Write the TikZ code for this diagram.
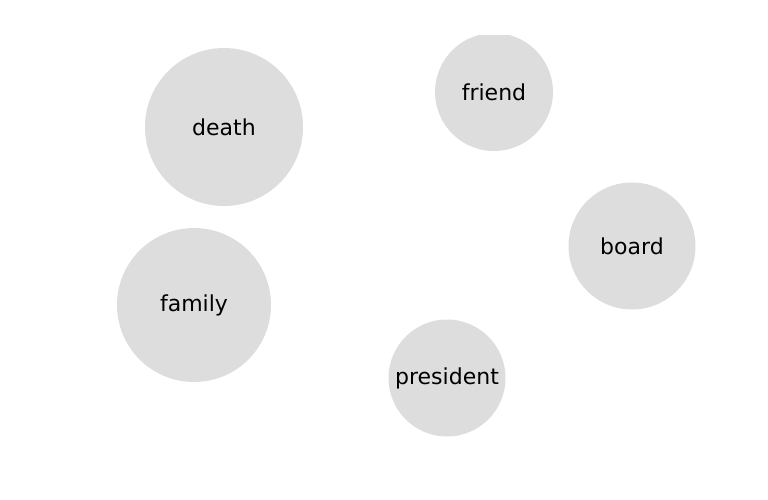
\documentclass[tikz,border=0pt]{standalone}
\usepackage{fontspec}
\setmainfont{DejaVu Sans}
\definecolor{bub}{HTML}{DDDDDD}
\tikzset{bubble/.style={circle, fill=bub, draw=none, inner sep=0pt, font=\fontsize{22}{26}\selectfont, text=black}}
\begin{document}
\begin{tikzpicture}[x=1pt,y=-1pt]
\useasboundingbox (0,0) rectangle (768,500);
\begin{scope}
\clip (0,35.5) rectangle (768,436);
\node[bubble, minimum size=158pt] (death) at (224,127) {death};
\node[bubble, minimum size=118pt] (friend) at (494,92) {friend};
\node[bubble, minimum size=127pt] (board) at (632,246) {board};
\node[bubble, minimum size=154pt] (family) at (194,305) {family};
\node[bubble, minimum size=117pt] (president) at (447,378) {president};
\end{scope}
\end{tikzpicture}
\end{document}
